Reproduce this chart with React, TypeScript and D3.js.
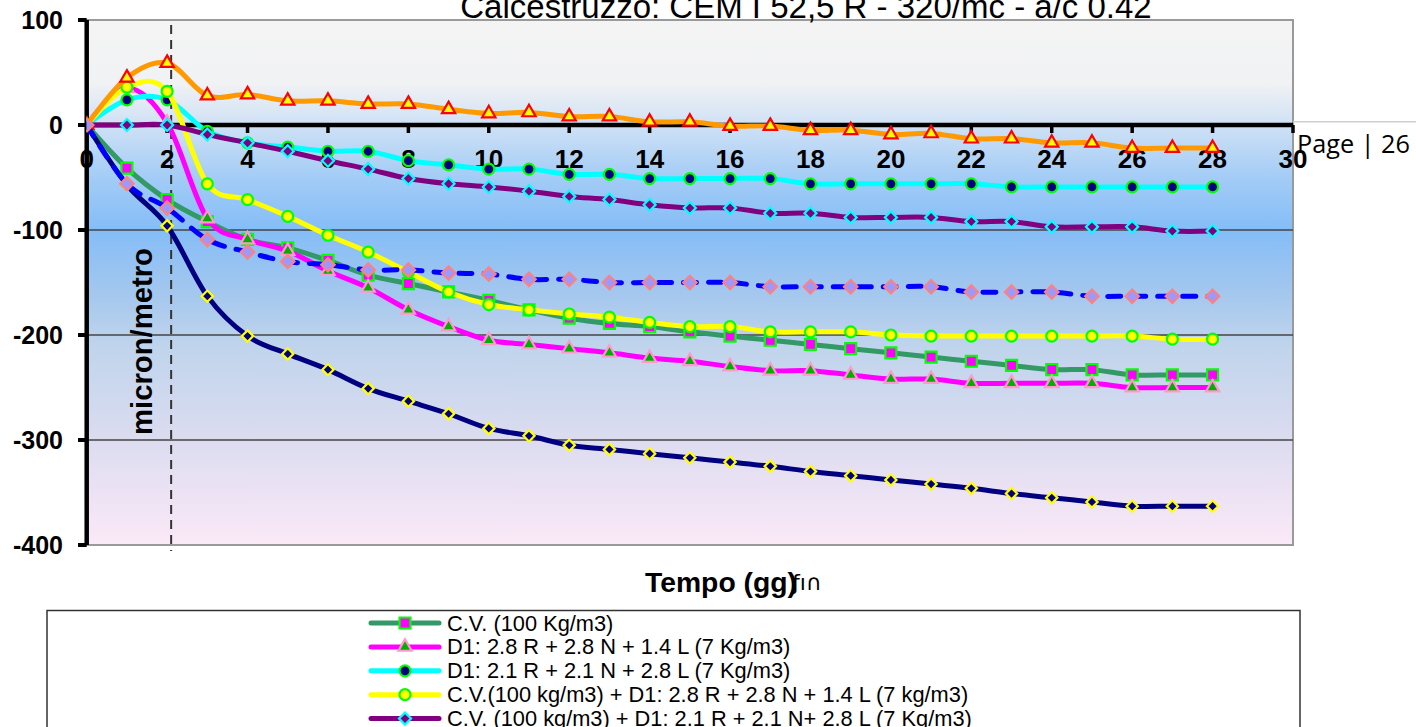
import * as d3 from "d3";

/**
 * Ritiro calcestruzzo — curve di deformazione (micron/metro) nei primi 28 giorni.
 */

const W = 1416;
const H = 727;
const PLOT = { left: 86.7, right: 1293, top: 20, bottom: 545 };

const DAYS = [0, 1, 2, 3, 4, 5, 6, 7, 8, 9, 10, 11, 12, 13, 14, 15, 16, 17, 18, 19, 20, 21, 22, 23, 24, 25, 26, 27, 28];
const X_TICKS = [0, 2, 4, 6, 8, 10, 12, 14, 16, 18, 20, 22, 24, 26, 28, 30];
const Y_TICKS = [100, 0, -100, -200, -300, -400];
const GRID_Y = [-100, -200, -300];
const MARK_DAY = 2.1;

const CV = [0, -41, -71, -92, -109, -117, -129, -143, -151, -159, -167, -176, -184, -189, -192, -197, -201, -205, -209, -213, -217, -221, -225, -229, -233, -233, -238, -238, -238];
const D1_A = [0, 35, 2, -89, -109, -120, -139, -155, -176, -192, -205, -209, -213, -217, -222, -225, -230, -234, -234, -238, -242, -242, -246, -246, -246, -246, -250, -250, -250];
const D1_B = [0, 24, 24, -6, -17, -21, -25, -25, -34, -38, -42, -42, -47, -47, -51, -51, -51, -51, -56, -56, -56, -56, -56, -59, -59, -59, -59, -59, -59];
const CV_D1_A = [0, 36, 32, -56, -71, -87, -105, -121, -140, -159, -171, -176, -180, -183, -188, -192, -192, -197, -197, -197, -200, -201, -201, -201, -201, -201, -201, -204, -204];
const CV_D1_B = [0, 0, 0, -9, -17, -25, -34, -42, -51, -56, -59, -63, -68, -71, -76, -79, -79, -84, -84, -88, -88, -88, -92, -92, -97, -97, -97, -101, -101];
const RIF = [0, 45, 59, 28, 29, 23, 23, 20, 20, 15, 11, 12, 8, 8, 3, 3, -1, -1, -5, -5, -9, -8, -13, -13, -17, -17, -22, -22, -22];
const SERIE_7 = [0, -56, -79, -109, -121, -130, -133, -138, -138, -141, -142, -147, -147, -150, -150, -150, -150, -154, -154, -154, -154, -154, -159, -159, -159, -163, -163, -163, -163];
const SERIE_8 = [0, -57, -96, -163, -201, -218, -233, -251, -263, -275, -289, -296, -305, -309, -313, -317, -321, -325, -330, -334, -338, -342, -346, -351, -355, -359, -363, -363, -363];

type Shape = "square" | "triangle" | "circle" | "diamond";
interface Serie {
  label: string | null;
  values: number[];
  line: string;
  dash?: string;
  shape: Shape;
  fill: string;
  stroke: string;
  size: number;
}

// draw order = Excel series order (later ones on top)
const SERIES: Serie[] = [
  { label: "C.V. (100 Kg/m3)", values: CV, line: "#339966", shape: "square", fill: "#ff00ff", stroke: "#00ff00", size: 11 },
  { label: "D1: 2.8 R + 2.8 N + 1.4 L (7 Kg/m3)", values: D1_A, line: "#ff00ff", shape: "triangle", fill: "#00b000", stroke: "#ff99cc", size: 13 },
  { label: "D1: 2.1 R + 2.1 N + 2.8 L (7 Kg/m3)", values: D1_B, line: "#00ffff", shape: "circle", fill: "#000080", stroke: "#00ff00", size: 11 },
  { label: "C.V.(100 kg/m3) + D1: 2.8 R + 2.8 N + 1.4 L (7 kg/m3)", values: CV_D1_A, line: "#ffff00", shape: "circle", fill: "#ffff00", stroke: "#00ff00", size: 11 },
  { label: "C.V. (100 kg/m3) + D1: 2.1 R + 2.1 N+ 2.8 L (7 Kg/m3)", values: CV_D1_B, line: "#800080", shape: "diamond", fill: "#800080", stroke: "#00ffff", size: 8.5 },
  { label: null, values: RIF, line: "#ff9900", shape: "triangle", fill: "#ffff00", stroke: "#ff0000", size: 13 },
  { label: null, values: SERIE_8, line: "#000080", shape: "diamond", fill: "#000080", stroke: "#ffff00", size: 8 },
  { label: null, values: SERIE_7, line: "#0000ff", dash: "13 12", shape: "diamond", fill: "#9999ff", stroke: "#ff8080", size: 9.5 },
];

const FONT = "'Liberation Sans', Arial, sans-serif";

function markerPath(shape: Shape, size: number): string {
  if (shape === "triangle") return d3.symbol(d3.symbolTriangle, size * size * 0.45)()!;
  if (shape === "circle") return d3.symbol(d3.symbolCircle, Math.PI * (size / 2) ** 2)()!;
  return d3.symbol(d3.symbolSquare, size * size)()!;
}

function Marker({ s, x, y }: { s: Serie; x: number; y: number }) {
  const rot = s.shape === "diamond" ? " rotate(45)" : "";
  return (
    <path
      d={markerPath(s.shape, s.size)}
      transform={`translate(${x},${y})${rot}`}
      fill={s.fill}
      stroke={s.stroke}
      strokeWidth={2.2}
    />
  );
}

export default function App() {
  const x = d3.scaleLinear().domain([0, 30]).range([PLOT.left, PLOT.right]);
  const y = d3.scaleLinear().domain([100, -400]).range([PLOT.top, PLOT.bottom]);

  const line = d3
    .line<number>()
    .x((_, i) => x(DAYS[i]))
    .y((v) => y(v))
    .curve(d3.curveCardinal.tension(0));

  const legendRows = SERIES.filter((s) => s.label !== null);
  const legendY0 = 623;
  const legendStep = 23.9;

  return (
    <svg
      width={W}
      height={H}
      style={{ position: "absolute", left: 0, top: 0, background: "#ffffff" }}
    >
      <defs>
        <linearGradient id="bg" x1="0" y1="0" x2="0" y2="1">
          <stop offset="0" stopColor="#f4f4f4" />
          <stop offset="0.12" stopColor="#f1f2f4" />
          <stop offset="0.2" stopColor="#cfe1f5" />
          <stop offset="0.3" stopColor="#a3ccf6" />
          <stop offset="0.4" stopColor="#84bdf7" />
          <stop offset="0.52" stopColor="#a4c7ee" />
          <stop offset="0.62" stopColor="#bfd4ec" />
          <stop offset="0.8" stopColor="#dcdcf0" />
          <stop offset="1" stopColor="#fbe9f7" />
        </linearGradient>
        <clipPath id="plotClip">
          <rect x={PLOT.left} y={PLOT.top - 10} width={PLOT.right - PLOT.left + 10} height={PLOT.bottom - PLOT.top + 10} />
        </clipPath>
      </defs>

      {/* plot area */}
      <rect
        x={PLOT.left}
        y={PLOT.top}
        width={PLOT.right - PLOT.left}
        height={PLOT.bottom - PLOT.top}
        fill="url(#bg)"
        stroke="#9a9a9a"
        strokeWidth={2}
      />

      {/* gridlines */}
      {GRID_Y.map((t) => (
        <line key={t} x1={PLOT.left} x2={PLOT.right} y1={y(t)} y2={y(t)} stroke="#454545" strokeWidth={1.5} />
      ))}

      {/* page header line + page number */}
      <line x1={PLOT.right} x2={W} y1={121.7} y2={121.7} stroke="#cfcfcf" strokeWidth={1.5} />
      <text x={1297} y={153} fontFamily="'Open Sans', 'Noto Sans', sans-serif" fontSize={26} fill="#000" textLength={113} lengthAdjust="spacingAndGlyphs">
        Page | 26
      </text>

      {/* vertical dashed marker */}
      <line x1={x(MARK_DAY)} x2={x(MARK_DAY)} y1={25} y2={551} stroke="#333" strokeWidth={2} strokeDasharray="9 6" />

      {/* x axis at zero */}
      <line x1={PLOT.left} x2={PLOT.right} y1={y(0)} y2={y(0)} stroke="#000" strokeWidth={4.5} />
      {X_TICKS.map((t) => (
        <g key={t}>
          <line x1={x(t)} x2={x(t)} y1={y(0)} y2={y(0) + 8} stroke="#000" strokeWidth={3.5} />
          <text x={x(t)} y={168} textAnchor="middle" fontFamily={FONT} fontWeight="bold" fontSize={26} fill="#000">
            {t}
          </text>
        </g>
      ))}

      {/* y axis */}
      <line x1={PLOT.left} x2={PLOT.left} y1={PLOT.top} y2={PLOT.bottom} stroke="#000" strokeWidth={4.5} />
      {Y_TICKS.map((t) => (
        <g key={t}>
          <line x1={78} x2={PLOT.left} y1={y(t)} y2={y(t)} stroke="#000" strokeWidth={4} />
          <text x={63} y={y(t)} dy="0.36em" textAnchor="end" fontFamily={FONT} fontWeight="bold" fontSize={25} fill="#000">
            {t}
          </text>
        </g>
      ))}

      {/* series */}
      <g clipPath="url(#plotClip)">
        {SERIES.map((s, si) => (
          <g key={si}>
            <path
              d={line(s.values)!}
              fill="none"
              stroke={s.line}
              strokeWidth={5}
              strokeDasharray={s.dash}
              strokeLinecap="round"
              strokeLinejoin="round"
            />
            {s.values.map((v, i) => (
              <Marker key={i} s={s} x={x(DAYS[i])} y={y(v)} />
            ))}
          </g>
        ))}
      </g>

      {/* axis titles */}
      <text
        transform={`translate(152,341.5) rotate(-90)`}
        textAnchor="middle"
        fontFamily={FONT}
        fontWeight="bold"
        fontSize={30}
        fill="#000"
        textLength={187}
        lengthAdjust="spacingAndGlyphs"
      >
        micron/metro
      </text>
      <text x={645} y={592} fontFamily={FONT} fontWeight="bold" fontSize={28} fill="#000" textLength={152} lengthAdjust="spacingAndGlyphs">
        Tempo (gg)
      </text>
      <text x={792} y={590} fontFamily="'DejaVu Sans', sans-serif" fontSize={22} fill="#000">
        ƒı∩
      </text>

      {/* chart title (cut at the top edge) */}
      <text x={806} y={18} textAnchor="middle" fontFamily={FONT} fontSize={33} fill="#000">
        Calcestruzzo: CEM I 52,5 R - 320/mc - a/c 0.42
      </text>

      {/* legend */}
      <rect x={47} y={610.5} width={1253} height={200} fill="#fff" stroke="#333" strokeWidth={1.5} />
      {legendRows.map((s, i) => {
        const cy = legendY0 + i * legendStep;
        return (
          <g key={i}>
            <line x1={371} x2={439} y1={cy} y2={cy} stroke={s.line} strokeWidth={5} strokeLinecap="round" />
            <Marker s={s} x={405} y={cy} />
            <text x={447} y={cy + 7.5} fontFamily={FONT} fontSize={21.8} fill="#000">
              {s.label}
            </text>
          </g>
        );
      })}
    </svg>
  );
}
